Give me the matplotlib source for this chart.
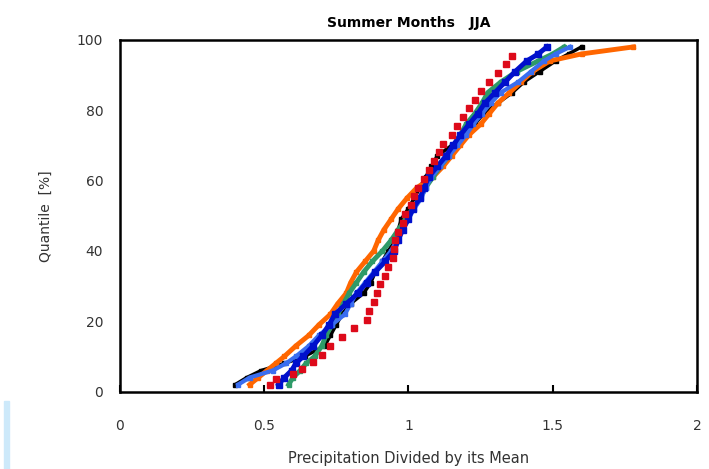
import matplotlib
matplotlib.use("Agg")
import matplotlib.pyplot as plt
from matplotlib.patches import Rectangle

# quantile levels [%] shared by the dense curves
levels = [2, 4, 6, 8, 10, 13, 16, 19, 22, 25, 28, 31, 34, 37, 40, 43, 46, 49, 52,
          55, 58, 61, 64, 67, 70, 73, 76, 79, 82, 85, 88, 91, 94, 96, 98]

black = [0.40, 0.44, 0.49, 0.57, 0.64, 0.71, 0.73, 0.75, 0.77, 0.80, 0.845, 0.87,
         0.885, 0.91, 0.93, 0.955, 0.965, 0.975, 1.00, 1.02, 1.04, 1.06, 1.08, 1.10,
         1.15, 1.195, 1.23, 1.26, 1.31, 1.36, 1.40, 1.455, 1.51, 1.555, 1.60]
orange = [0.45, 0.48, 0.51, 0.54, 0.57, 0.61, 0.655, 0.69, 0.73, 0.755, 0.785, 0.80,
          0.82, 0.85, 0.88, 0.895, 0.915, 0.94, 0.965, 0.995, 1.03, 1.085, 1.12, 1.15,
          1.18, 1.21, 1.25, 1.28, 1.31, 1.35, 1.39, 1.43, 1.49, 1.60, 1.78]
green = [0.585, 0.60, 0.625, 0.645, 0.675, 0.70, 0.715, 0.735, 0.755, 0.775, 0.795,
         0.82, 0.845, 0.875, 0.91, 0.94, 0.965, 0.99, 1.015, 1.04, 1.06, 1.085, 1.11,
         1.14, 1.16, 1.18, 1.20, 1.23, 1.255, 1.275, 1.32, 1.375, 1.45, 1.50, 1.54]
light_blue = [0.41, 0.45, 0.53, 0.575, 0.61, 0.655, 0.69, 0.735, 0.78, 0.80, 0.82,
              0.85, 0.88, 0.91, 0.94, 0.96, 0.98, 1.00, 1.02, 1.045, 1.06, 1.08, 1.11,
              1.14, 1.17, 1.20, 1.225, 1.255, 1.285, 1.32, 1.38, 1.425, 1.47, 1.51, 1.56]
dark_blue = [0.55, 0.57, 0.595, 0.61, 0.635, 0.67, 0.70, 0.725, 0.745, 0.785, 0.825,
             0.855, 0.885, 0.92, 0.95, 0.965, 0.98, 1.00, 1.015, 1.04, 1.055, 1.07,
             1.10, 1.13, 1.155, 1.18, 1.21, 1.24, 1.265, 1.30, 1.335, 1.37, 1.41, 1.45, 1.48]

# red curve is sparser
red_levels = [2, 3.5, 5, 6.5, 8.5, 10.5, 13, 15.5, 18, 20.5, 23, 25.5, 28, 30.5, 33,
              35.5, 38, 40.5, 43, 45.5, 48, 50.5, 53, 55.5, 58, 60.5, 63, 65.5, 68,
              70.5, 73, 75.5, 78, 80.5, 83, 85.5, 88, 90.5, 93, 95.5]
red = [0.52, 0.54, 0.60, 0.63, 0.67, 0.70, 0.73, 0.77, 0.81, 0.855, 0.865, 0.88, 0.89,
       0.90, 0.92, 0.93, 0.945, 0.95, 0.955, 0.965, 0.98, 0.99, 1.01, 1.02, 1.035,
       1.055, 1.07, 1.09, 1.105, 1.12, 1.15, 1.17, 1.19, 1.21, 1.23, 1.25, 1.28, 1.31,
       1.34, 1.36]

xticks = [0, 0.5, 1, 1.5, 2]
xticklabels = ["0", "0.5", "1", "1.5", "2"]
yticks = [0, 20, 40, 60, 80, 100]

fig = plt.figure(figsize=(7.09, 4.69), dpi=100)
ax = fig.add_axes([0.169, 0.165, 0.814, 0.750])

ax.plot(black, levels, color="black", lw=2.5, marker="s", ms=3, zorder=2)
ax.plot(orange, levels, color="#ff6600", lw=3.5, marker="s", ms=3.5, zorder=3)
ax.plot(green, levels, color="#2e9a68", lw=3.5, marker="s", ms=3.5, zorder=3)
ax.plot(light_blue, levels, color="#3a6ef0", lw=3.0, marker="s", ms=3, zorder=3)
ax.plot(dark_blue, levels, color="#0010cc", lw=3.5, marker="s", ms=4, zorder=4)
ax.plot(red, red_levels, color="#dd0a1a", ls="none", marker="s", ms=4.5, zorder=4)

ax.set_xlim(0, 2)
ax.set_ylim(0, 100)
ax.set_xticks(xticks)
ax.set_xticklabels(xticklabels)
ax.set_yticks(yticks)
ax.tick_params(axis="x", direction="in", length=5, width=1.5, pad=20,
               labelsize=10, labelcolor="#333333")
ax.tick_params(axis="y", length=0, pad=12, labelsize=10, labelcolor="#333333")
for s in ax.spines.values():
    s.set_linewidth(1.8)

ax.set_title("Summer Months   JJA", fontsize=10, fontweight="bold", pad=9)
ax.set_xlabel("Precipitation Divided by its Mean", fontsize=10.5,
              color="#333333", labelpad=13)
ax.set_ylabel("Quantile  [%]", fontsize=10, color="#333333", labelpad=17)

# light blue strip at lower left edge
fig.patches.append(Rectangle((0.006, 0.0), 0.007, 0.145, transform=fig.transFigure,
                             color="#cde9fa", zorder=0))

plt.savefig("out.png", dpi=100)
